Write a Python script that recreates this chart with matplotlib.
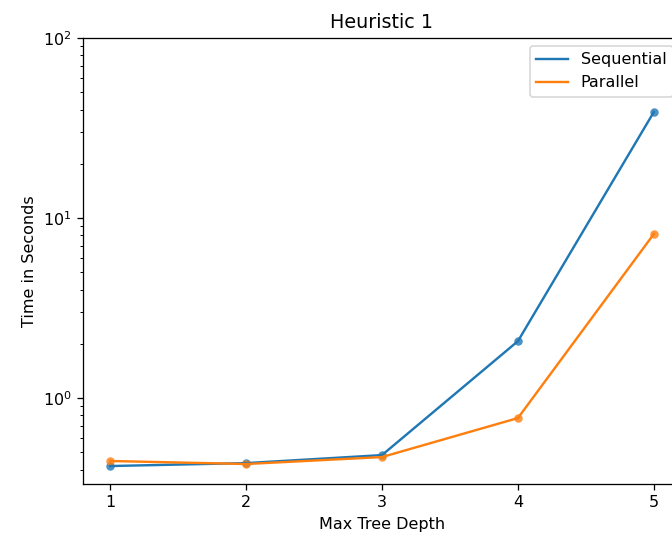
import matplotlib.pyplot as plt

# Timing results
depths = [1, 2, 3, 4, 5]
sequential = [0.419, 0.435, 0.482, 2.07, 38.8]
parallel = [0.447, 0.43, 0.47, 0.774, 8.15]

fig = plt.figure(figsize=(6.72 / 1.15, 5.37 / 1.15), dpi=115)
# axes run past the right edge, like the cropped original
ax = fig.add_axes([83 / 672, 53 / 537, 598 / 672, 446 / 537])

ax.plot(depths, sequential, color='#1f77b4', label='Sequential')
ax.plot(depths, parallel, color='#ff7f0e', label='Parallel')
ax.scatter(depths, sequential, color='#1f77b4', s=28, alpha=0.8, linewidths=0)
ax.scatter(depths, parallel, color='#ff7f0e', s=28, alpha=0.8, linewidths=0)

ax.set_yscale('log')
ax.set_ylim(0.333, 100)
ax.set_xlim(0.8, 5.2)
ax.set_xticks(depths)
ax.set_xlabel('Max Tree Depth')
ax.set_ylabel('Time in Seconds')
ax.set_title('Heuristic 1')
ax.legend(loc='upper right')

fig.savefig('out.png', dpi=115)
